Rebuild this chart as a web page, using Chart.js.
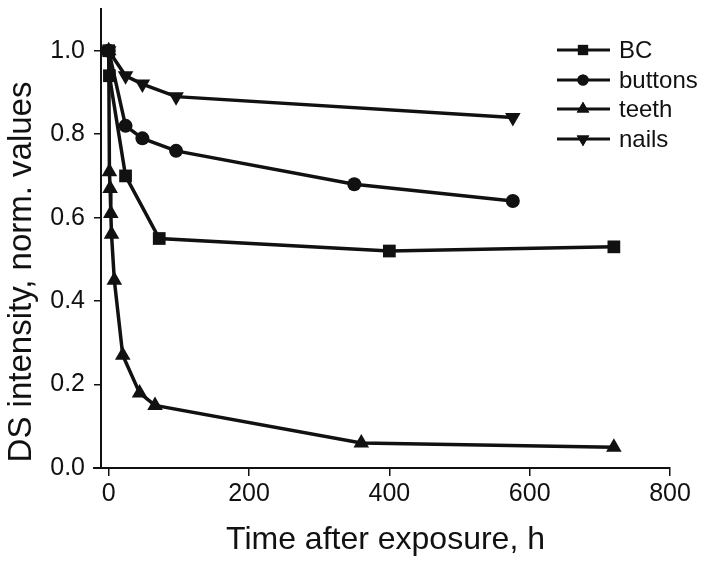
<!DOCTYPE html>
<html>
<head>
<meta charset="utf-8">
<script src="https://cdn.jsdelivr.net/npm/chart.js@4/dist/chart.umd.min.js"></script>
<style>
  html, body { margin: 0; padding: 0; background: #fff; }
  #wrap { width: 704px; height: 567px; }
</style>
</head>
<body>
<div id="wrap"><canvas id="chart"></canvas></div>
<script>
// values (time in h, normalised DS intensity)
const bcTime = [0, 1, 24, 72, 400, 720];
const bcValues = [1.0, 0.94, 0.70, 0.55, 0.52, 0.53];

const buttonsTime = [0, 24, 48, 96, 350, 576];
const buttonsValues = [1.0, 0.82, 0.79, 0.76, 0.68, 0.64];

const teethTime = [0, 1, 2, 3, 4, 8, 20, 44, 66, 360, 720];
const teethValues = [1.0, 0.71, 0.67, 0.61, 0.56, 0.45, 0.27, 0.18, 0.15, 0.06, 0.05];

const nailsTime = [0, 24, 48, 96, 576];
const nailsValues = [1.0, 0.94, 0.92, 0.89, 0.84];

const xTicks = [0, 200, 400, 600, 800];
const yTicks = [0.0, 0.2, 0.4, 0.6, 0.8, 1.0];

const FONT = "'Liberation Sans', Arial, sans-serif";
const INK = "#111";

function toPoints(xs, ys) {
  return xs.map((x, i) => ({ x: x, y: ys[i] }));
}

function makeSet(label, xs, ys, style, radius, rotation) {
  return {
    label: label,
    data: toPoints(xs, ys),
    borderColor: INK,
    backgroundColor: INK,
    borderWidth: 3.5,
    pointStyle: style,
    pointRadius: radius,
    pointRotation: rotation || 0,
    pointBorderWidth: 0,
    pointBackgroundColor: INK,
    tension: 0,
    clip: false,
  };
}

// legend + y title drawn by hand, like the original
const extrasPlugin = {
  id: "extras",
  afterDatasetsDraw(chart) {
    const ctx = chart.ctx;
    const area = chart.chartArea;
    const rows = [50, 80, 109, 139];
    ctx.save();

    // x axis line runs a little past the y axis on the left
    ctx.strokeStyle = INK;
    ctx.lineWidth = 2;
    ctx.beginPath();
    ctx.moveTo(area.left - 8, area.bottom);
    ctx.lineTo(area.left, area.bottom);
    ctx.stroke();

    chart.data.datasets.forEach((ds, i) => {
      const y = rows[i];
      ctx.strokeStyle = INK;
      ctx.lineWidth = 3;
      ctx.beginPath();
      ctx.moveTo(557, y);
      ctx.lineTo(610, y);
      ctx.stroke();
      ctx.fillStyle = INK;
      Chart.helpers.drawPoint(ctx, {
        pointStyle: ds.pointStyle,
        radius: ds.pointRadius * 0.8,
        rotation: ds.pointRotation,
        borderWidth: 0,
      }, 583, y);
      ctx.fill();
      ctx.font = "24px " + FONT;
      ctx.textBaseline = "middle";
      ctx.textAlign = "left";
      ctx.fillText(ds.label, 619, y + 1);
    });

    ctx.translate(22, 272);
    ctx.rotate(-Math.PI / 2);
    ctx.font = "33px " + FONT;
    ctx.textAlign = "center";
    ctx.textBaseline = "middle";
    ctx.fillStyle = INK;
    ctx.fillText("DS intensity, norm. values", 0, 0);
    ctx.restore();
  },
};

const ctx = document.getElementById("chart");

const myChart = new Chart(ctx, {
  type: "line",
  data: {
    datasets: [
      makeSet("BC", bcTime, bcValues, "rect", 9),
      makeSet("buttons", buttonsTime, buttonsValues, "circle", 7),
      makeSet("teeth", teethTime, teethValues, "triangle", 9),
      makeSet("nails", nailsTime, nailsValues, "triangle", 9, 180),
    ],
  },
  options: {
    responsive: true,
    maintainAspectRatio: false,
    animation: false,
    layout: { padding: { top: 8, right: 34, bottom: 0, left: 0 } },
    plugins: {
      legend: { display: false },
      tooltip: { enabled: false },
    },
    scales: {
      x: {
        type: "linear",
        min: -11,
        max: 800,
        afterBuildTicks: (scale) => {
          scale.ticks = xTicks.map((v) => ({ value: v }));
        },
        afterFit: (scale) => {
          scale.height = 99;
          scale.paddingLeft = 0;
          scale.paddingRight = 0;
        },
        border: { display: true, color: INK, width: 2 },
        grid: { drawOnChartArea: false, color: INK, lineWidth: 1.5, tickLength: 8 },
        ticks: {
          color: INK,
          font: { family: FONT, size: 25 },
          padding: 3,
          maxRotation: 0,
          callback: (v) => String(v),
        },
        title: {
          display: true,
          text: "Time after exposure, h",
          color: INK,
          font: { family: FONT, size: 32 },
          padding: { top: 0, bottom: 8 },
        },
      },
      y: {
        type: "linear",
        min: 0,
        max: 1.1,
        afterBuildTicks: (scale) => {
          scale.ticks = yTicks.map((v) => ({ value: v }));
        },
        afterFit: (scale) => {
          scale.width = 101;
          scale.paddingTop = 0;
          scale.paddingBottom = 0;
        },
        border: { display: true, color: INK, width: 2 },
        grid: { drawOnChartArea: false, color: INK, lineWidth: 1.5, tickLength: 7 },
        ticks: {
          color: INK,
          font: { family: FONT, size: 25 },
          padding: 9,
          callback: (v) => v.toFixed(1),
        },
        title: { display: false },
      },
    },
  },
  plugins: [extrasPlugin],
});
</script>
</body>
</html>
